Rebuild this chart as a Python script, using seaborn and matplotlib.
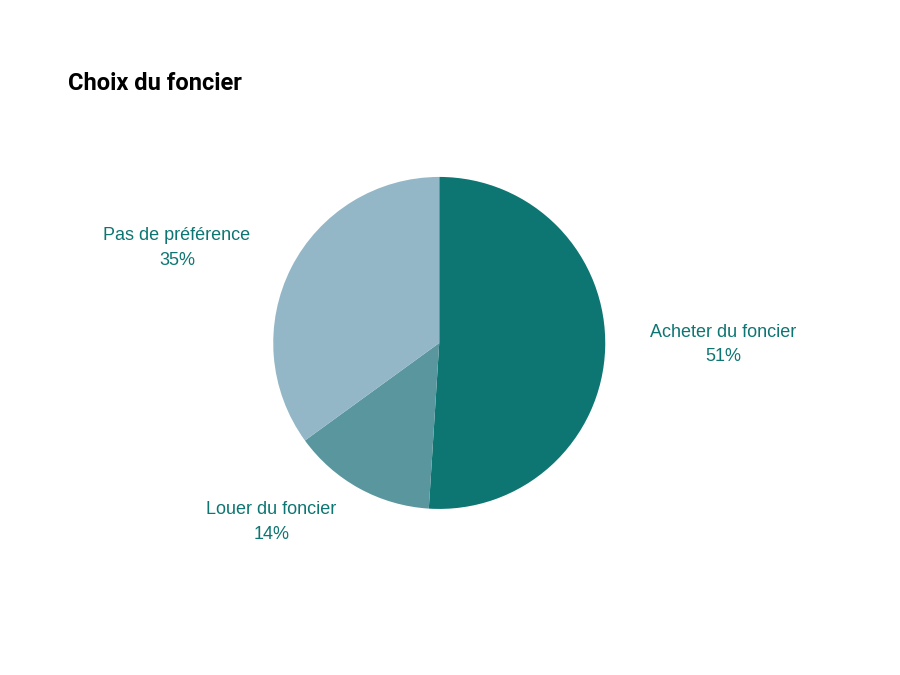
import matplotlib
matplotlib.use("Agg")
import matplotlib.pyplot as plt
import seaborn as sns

sns.set_theme(style="white")
plt.rcParams['font.family'] = ['Liberation Sans', 'DejaVu Sans']

categories = ["Acheter du foncier", "Louer du foncier", "Pas de préférence"]
values = [51, 14, 35]
colors = ["#0e7672", "#5a969e", "#93b7c7"]
label_pos = [(1.71, -0.01), (-1.01, -1.08), (-1.58, 0.57)]

fig = plt.figure(figsize=(9, 6.75), dpi=100)
ax = fig.add_axes([0.488 - 0.1844, 0.492 - 0.246, 0.3689, 0.4919])
ax.pie(values, colors=colors, startangle=90, counterclock=False,
       wedgeprops=dict(linewidth=0))
ax.set_xlim(-1, 1); ax.set_ylim(-1, 1); ax.set_aspect('equal')
for cat, v, (x, y) in zip(categories, values, label_pos):
    ax.text(x, y, f"{cat}\n{v}%", ha='center', va='center', color="#0e7672",
            fontsize=13, linespacing=1.6, clip_on=False)
fig.text(68/900, 1 - 83/675, "Choix du foncier", fontsize=17, fontweight='bold',
         family=['Roboto', 'DejaVu Sans'], color='black', va='center', ha='left')
fig.savefig("out.png", dpi=100)
